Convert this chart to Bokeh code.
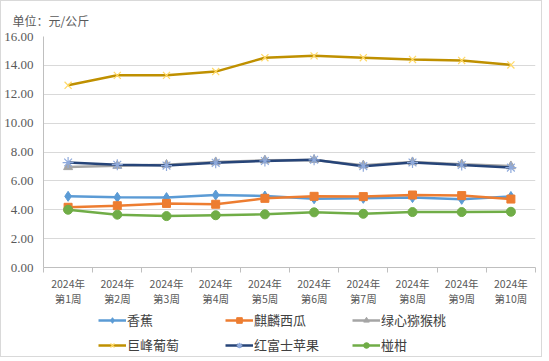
from bokeh.plotting import figure
from bokeh.layouts import column
from bokeh.models import (FixedTicker, NumeralTickFormatter, Legend, LegendItem, Range1d,
                          Plot, Line, Scatter, ColumnDataSource)
from bokeh.embed import file_html
from bokeh.resources import INLINE

weeks = [1, 2, 3, 4, 5, 6, 7, 8, 9, 10]
week_labels = ["2024年\n第%d周" % i for i in weeks]

banana = [4.93, 4.86, 4.84, 5.02, 4.95, 4.76, 4.79, 4.84, 4.72, 4.92]
watermelon = [4.17, 4.28, 4.44, 4.38, 4.79, 4.93, 4.91, 5.02, 4.98, 4.74]
kiwi = [6.96, 7.05, 7.12, 7.30, 7.42, 7.45, 7.08, 7.30, 7.15, 7.02]
grape = [12.62, 13.31, 13.31, 13.57, 14.53, 14.66, 14.53, 14.41, 14.34, 14.03]
apple = [7.27, 7.12, 7.06, 7.25, 7.38, 7.46, 7.02, 7.27, 7.10, 6.92]
orange = [4.00, 3.66, 3.56, 3.62, 3.68, 3.82, 3.72, 3.84, 3.84, 3.86]

series = [
    ("香蕉", banana, "#5B9BD5", "diamond", "#5B9BD5", 10),
    ("麒麟西瓜", watermelon, "#ED7D31", "square", "#ED7D31", 8),
    ("绿心猕猴桃", kiwi, "#A5A5A5", "triangle", "#A5A5A5", 9),
    ("巨峰葡萄", grape, "#BF9000", "x", "#FFD966", 10),
    ("红富士苹果", apple, "#264478", "asterisk", "#8FAADC", 11),
    ("椪柑", orange, "#70AD47", "circle", "#70AD47", 9),
]

p = figure(frame_width=492, frame_height=231, output_backend="svg", toolbar_location=None,
           x_range=Range1d(0.5, 10.5), y_range=Range1d(0, 16),
           min_border_left=39, min_border_right=6, min_border_top=27, min_border_bottom=40)
p.outline_line_color = None
p.background_fill_color = "white"

p.title.text = "单位：元/公斤"
p.title.text_font = "Noto Sans CJK SC"
p.title.text_font_size = "12px"
p.title.text_font_style = "normal"
p.title.text_color = "#595959"
p.title.align = "left"
p.title.offset = -31
p.title.standoff = 16

p.xgrid.grid_line_color = None
p.ygrid.grid_line_color = "#d9d9d9"
p.ygrid.grid_line_width = 1

p.yaxis.ticker = FixedTicker(ticks=[0, 2, 4, 6, 8, 10, 12, 14, 16])
p.yaxis.formatter = NumeralTickFormatter(format="0.00")
p.yaxis.major_tick_out = 0
p.yaxis.major_tick_in = 0
p.yaxis.minor_tick_out = 0
p.yaxis.axis_line_color = "#bfbfbf"
p.yaxis.major_label_text_font = "Liberation Serif"
p.yaxis.major_label_text_font_size = "13px"
p.yaxis.major_label_text_color = "#595959"
p.yaxis.major_label_standoff = 10

p.xaxis.ticker = FixedTicker(ticks=weeks, minor_ticks=[w - 0.5 for w in weeks] + [10.5])
p.xaxis.major_label_overrides = {w: l for w, l in zip(weeks, week_labels)}
p.xaxis.major_tick_out = 0
p.xaxis.major_tick_in = 0
p.xaxis.minor_tick_out = 5
p.xaxis.minor_tick_in = 0
p.xaxis.minor_tick_line_color = "#bfbfbf"
p.xaxis.axis_line_color = "#bfbfbf"
p.xaxis.major_label_text_font = "Noto Sans CJK SC"
p.xaxis.major_label_text_font_size = "10.5px"
p.xaxis.major_label_text_line_height = 1.0
p.xaxis.major_label_text_color = "#595959"
p.xaxis.major_label_standoff = 3

# legend strip: a bare Plot with no panels
p2 = Plot(width=537, height=48, output_backend="svg", toolbar_location=None,
          x_range=Range1d(0, 1), y_range=Range1d(0, 1),
          min_border=0, min_border_left=0, min_border_right=0, min_border_top=0, min_border_bottom=0,
          outline_line_color=None, title=None)

items = []
for name, vals, lc, marker, mc, size in series:
    p.line(weeks, vals, line_color=lc, line_width=2.5)
    if marker in ("x", "asterisk"):
        p.scatter(weeks, vals, marker=marker, size=size, line_color=mc, line_width=1.2, fill_color=None)
    else:
        p.scatter(weeks, vals, marker=marker, size=size, line_color=mc, fill_color=mc)
    src = ColumnDataSource(dict(x=[5, 6], y=[5, 5]))
    r1 = p2.add_glyph(src, Line(x="x", y="y", line_color=lc, line_width=2.5))
    if marker in ("x", "asterisk"):
        g = Scatter(x="x", y="y", marker=marker, size=size, line_color=mc, line_width=1.2, fill_color=None)
    else:
        g = Scatter(x="x", y="y", marker=marker, size=size - 2, line_color=mc, fill_color=mc)
    r2 = p2.add_glyph(src, g)
    items.append(LegendItem(label=name, renderers=[r1, r2]))

legend = Legend(items=items, orientation="horizontal", ncols=3,
                location=(55, 2), border_line_color=None, background_fill_alpha=0,
                glyph_width=28, glyph_height=14, label_standoff=1, label_width=92,
                spacing=6, padding=2, margin=0,
                label_text_font="Noto Sans CJK SC", label_text_font_size="13px",
                label_text_color="#404040", label_height=16)
p2.add_layout(legend, "center")

layout = column(p, p2, spacing=0)
layout.styles = {"border": "1px solid #d9d9d9"}

open("out.html", "w").write(file_html(layout, INLINE))
